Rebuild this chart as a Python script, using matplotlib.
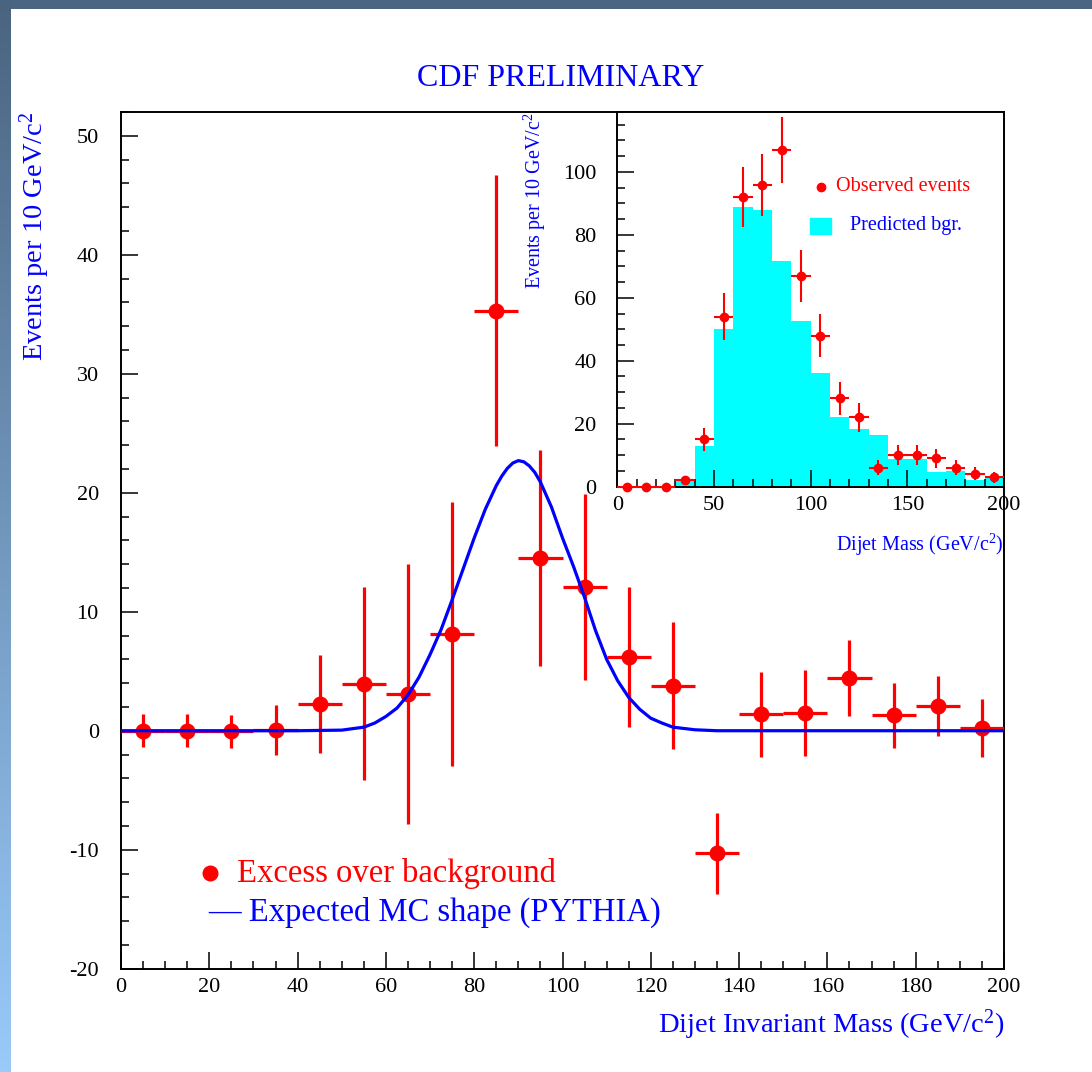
import numpy as np
import matplotlib
matplotlib.use("Agg")
import matplotlib.pyplot as plt
from matplotlib.ticker import MultipleLocator

plt.rcParams['font.family'] = ['Liberation Serif', 'DejaVu Serif']
plt.rcParams['mathtext.fontset'] = 'custom'
plt.rcParams['mathtext.rm'] = 'Liberation Serif'
plt.rcParams['mathtext.it'] = 'Liberation Serif:italic'
plt.rcParams['axes.unicode_minus'] = False

# main plot: excess over background
mass = [5, 15, 25, 35, 45, 55, 65, 75, 85, 95, 105, 115, 125, 135, 145, 155, 165, 175, 185, 195]
excess = [0.0, 0.0, -0.05, 0.1, 2.27, 3.95, 3.1, 8.15, 35.3, 14.5, 12.1, 6.2, 3.8, -10.3,
          1.37, 1.5, 4.45, 1.3, 2.07, 0.25]
excess_err = [1.4, 1.4, 1.4, 2.1, 4.1, 8.1, 10.9, 11.1, 11.4, 9.1, 7.8, 5.9, 5.3, 3.4,
              3.6, 3.6, 3.2, 2.75, 2.55, 2.45]

# expected MC shape (PYTHIA)
mc_x = [0, 40, 50, 55, 57.5, 60, 62.5, 65, 67.5, 70, 72.5, 75, 77.5, 80, 82.5, 85, 86.25,
        87.5, 88.75, 90, 91.25, 92.5, 93.75, 95, 97.5, 100, 102.5, 105, 107.5, 110, 112.5,
        115, 117.5, 120, 122.5, 125, 130, 135, 199.5]
mc_y = [0, 0, 0.05, 0.3, 0.65, 1.2, 1.9, 3.0, 4.5, 6.4, 8.5, 11.0, 13.6, 16.2, 18.6, 20.6, 21.4,
        22.05, 22.5, 22.7, 22.6, 22.25, 21.7, 20.9, 18.8, 16.2, 13.8, 11.2, 8.4, 6.0, 4.2,
        2.8, 1.8, 1.05, 0.65, 0.3, 0.08, 0.0, 0.0]

# inset: observed events and predicted background
bin_lo = [0, 10, 20, 30, 40, 50, 60, 70, 80, 90, 100, 110, 120, 130, 140, 150, 160, 170, 180, 190]
bgr = [0, 0, 0, 2.4, 12.9, 50.2, 88.9, 87.9, 71.7, 52.6, 36.0, 22.1, 18.4, 16.5,
       8.8, 8.7, 4.8, 4.9, 2.1, 3.0]
observed = [0, 0, 0, 2.1, 15.1, 54.0, 92.0, 95.9, 107.0, 67.0, 48.0, 28.1, 22.1, 6.0,
            10.0, 10.0, 9.0, 6.0, 4.1, 3.0]
observed_err = [0, 0, 0, 1.4, 3.7, 7.4, 9.6, 9.8, 10.4, 8.2, 6.9, 5.3, 4.6, 2.4,
                3.2, 3.2, 3.0, 2.4, 2.0, 1.7]

RED = '#ff0000'
BLUE = '#0000ff'

fig = plt.figure(figsize=(10.92, 10.72), dpi=100)
fig.patch.set_facecolor('white')

# slide border: dark top band and blue gradient strip on the left
top = fig.add_axes([0, 1 - 9 / 1072, 1, 9 / 1072])
top.set_axis_off()
top.add_patch(plt.Rectangle((0, 0), 1, 1, color='#4a6582', transform=top.transAxes))
left = fig.add_axes([0, 0, 11 / 1092, 1])
grad = np.linspace(0, 1, 256).reshape(-1, 1)
c0 = np.array([74, 100, 128]) / 255
c1 = np.array([153, 202, 250]) / 255
img = c0 + (c1 - c0) * grad[:, :, None]
left.imshow(img, aspect='auto', extent=[0, 1, 0, 1], origin='upper')
left.set_axis_off()

def style_axes(ax, xmaj, xmin, ymaj, ymin, ypad):
    ax.xaxis.set_major_locator(MultipleLocator(xmaj))
    ax.xaxis.set_minor_locator(MultipleLocator(xmin))
    ax.yaxis.set_major_locator(MultipleLocator(ymaj))
    ax.yaxis.set_minor_locator(MultipleLocator(ymin))
    ax.tick_params(which='both', direction='in', top=False, right=False, width=1.1, color='black')
    ax.tick_params(axis='x', which='major', length=12, pad=7, labelsize=16)
    ax.tick_params(axis='y', which='major', length=12, pad=ypad, labelsize=16)
    ax.tick_params(which='minor', length=6)
    for s in ax.spines.values():
        s.set_linewidth(1.4)

# main axes
ax = fig.add_axes([121 / 1092, 1 - 968.7 / 1072, 883 / 1092, 856.7 / 1072])
ax.errorbar(mass, excess, yerr=excess_err, xerr=5, fmt='o', color=RED, ms=10.5,
            elinewidth=2.3, capsize=0, zorder=3)
ax.plot(mc_x, mc_y, color=BLUE, lw=2.3, zorder=4)
ax.set_xlim(0, 200)
ax.set_ylim(-20, 52)
style_axes(ax, 20, 5, 10, 2, 16)

ax.plot([0.1008], [0.1117], 'o', color=RED, ms=10.5, transform=ax.transAxes)
ax.text(0.1314, 0.1117, 'Excess over background', color=RED, fontsize=23.5,
        transform=ax.transAxes, va='center', ha='left')
ax.text(0.0985, 0.0662, '\u2014 Expected MC shape (PYTHIA)', color=BLUE, fontsize=23.5,
        transform=ax.transAxes, va='center', ha='left')

fig.text(0.5137, 0.9272, 'CDF PRELIMINARY', color=BLUE, fontsize=23, ha='center', va='center')
fig.text(0.032, 0.8955, r'Events per 10 GeV/c$^2$', color=BLUE, fontsize=20.5,
         rotation=90, ha='center', va='top')
fig.text(0.9194, 0.0438, r'Dijet Invariant Mass (GeV/c$^2$)', color=BLUE, fontsize=20.5,
         ha='right', va='center')

# inset axes
ins = fig.add_axes([617.3 / 1092, 1 - 486.7 / 1072, 386.7 / 1092, 374.7 / 1072])
ins.bar(bin_lo, bgr, width=10, align='edge', color='#00ffff', lw=0, zorder=1)
ins.errorbar([b + 5 for b in bin_lo], observed, yerr=observed_err, xerr=5, fmt='o',
             color=RED, ms=6, elinewidth=1.5, capsize=0, zorder=3, clip_on=False)
ins.set_xlim(0, 200)
ins.set_ylim(0, 119)
style_axes(ins, 50, 10, 20, 5, 15)

ins.plot([0.526], [0.8006], 'o', color=RED, ms=6, transform=ins.transAxes)
ins.text(0.5654, 0.8006, 'Observed events', color=RED, fontsize=14.5,
         transform=ins.transAxes, va='center', ha='left')
ins.add_patch(plt.Rectangle((0.4978, 0.6744), 0.0543, 0.0427, color='#00ffff',
                            transform=ins.transAxes, zorder=5))
ins.text(0.6018, 0.6958, 'Predicted bgr.', color=BLUE, fontsize=14.5,
         transform=ins.transAxes, va='center', ha='left')

fig.text(0.49, 0.8955, r'Events per 10 GeV/c$^2$', color=BLUE, fontsize=14.5,
         rotation=90, ha='center', va='top')
fig.text(0.9194, 1 - 545 / 1072, r'Dijet Mass (GeV/c$^2$)', color=BLUE, fontsize=14.5,
         ha='right', va='center')

fig.savefig('out.png', dpi=100, facecolor='white')
